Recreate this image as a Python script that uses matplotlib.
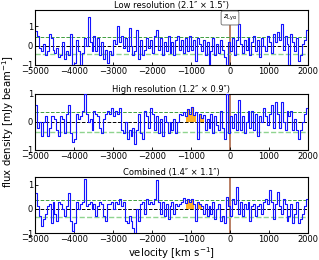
import numpy as np
import matplotlib
matplotlib.use("Agg")
import matplotlib.pyplot as plt

# channel centres (km/s), 50 km/s channels
velocity = np.arange(-4975, 2000, 50)

flux_low = [
    0.75, 0.5, -0.1, -0.3, 0.1, -0.5, -0.3, 0.6, 0.4, -0.2,
    -0.4, -0.1, -0.6, -0.5, 0.2, -0.7, -0.3, -0.5, 0.6, -1.0,
    -0.9, 0.3, -0.3, -1.0, -0.4, 0.4, 0.0, 1.5, 0.2, -0.3,
    0.5, -0.3, 0.4, -0.5, 0.2, -0.7, -0.2, -0.9, -0.3, -0.5,
    0.3, 0.1, 1.0, 0.2, 0.5, -0.1, 0.4, -0.3, 0.9, 0.0,
    -0.5, -0.3, 0.8, -0.7, 0.3, -0.5, -0.2, 0.4, -0.1, 0.3,
    -0.4, 0.5, 0.8, -0.2, 0.4, -0.5, 0.2, -0.3, 0.5, -0.4,
    0.2, -0.5, 0.3, 0.5, -0.2, 0.3, -0.4, 0.4, -0.3, 0.5,
    -0.2, 0.3, -0.8, 0.4, 0.1, -0.3, 0.3, -0.5, 0.2, -1.0,
    -0.3, 0.4, -0.5, 0.1, -0.4, 0.3, -0.2, -0.6, -1.0, 0.2,
    -0.3, 0.4, -0.5, 0.3, 1.1, 0.1, -0.4, 0.3, -0.2, 0.4,
    -0.5, 0.2, 0.5, -0.3, 0.3, -0.6, 0.4, 0.0, -0.3, 0.5,
    0.2, -0.4, 0.6, 0.2, 0.7, 0.3, 1.1, -0.2, 0.5, 0.1,
    -1.0, 0.6, 0.2, -0.3, 0.4, -0.8, -0.5, 0.1, 0.3, 0.8,
]

flux_high = [
    0.6, -0.2, 0.0, -0.5, 0.0, 0.2, -0.5, -0.2, 0.2, 0.2,
    0.1, -0.3, -0.5, 0.2, 0.1, -0.4, 0.3, 0.6, -0.4, -0.7,
    -0.6, 0.3, 0.1, 0.2, 0.4, 1.0, 0.3, 0.0, 0.1, -0.3,
    0.4, 0.3, 0.2, -0.2, -0.4, 0.1, 0.3, 0.4, 0.3, 0.5,
    0.2, 0.4, 0.3, 0.5, -0.3, -0.4, 0.0, -0.6, -0.3, -0.5,
    -0.2, -0.8, -0.3, 0.3, -0.4, -0.6, 0.4, 0.2, -0.2, 0.5,
    0.3, -0.3, 0.2, -0.4, 0.1, -0.5, 0.2, 0.0, -0.4, 0.0,
    -0.3, 0.1, -0.4, 0.0, 0.3, 0.25, 0.35, 0.2, 0.45, 0.3,
    0.55, 0.25, 0.35, -0.6, 0.3, 0.15, 0.25, -0.3, 0.1, -0.2,
    0.3, -0.4, 0.2, -0.1, -0.3, 0.4, -0.2, -0.6, 1.0, -0.4,
    0.2, -0.2, 0.3, -0.3, 0.8, -0.3, 0.2, -0.4, 0.0, 0.4,
    -0.2, 0.4, -0.3, 0.3, -0.5, 0.2, 0.0, 0.5, 0.2, -0.1,
    0.3, 0.6, -0.2, 0.7, 0.3, -0.2, 0.7, 0.0, -0.3, 0.4,
    0.2, 0.4, -0.3, 0.1, -0.3, -0.6, -0.3, 0.0, 0.3, 0.5,
]

flux_comb = [
    0.65, 0.1, -0.3, -0.7, -0.4, -0.2, 0.1, 0.2, -0.6, 0.3,
    -0.2, -0.5, 0.3, 0.2, 0.0, -0.3, 0.1, 0.65, -0.5, -0.9,
    -0.6, 0.3, 0.0, 0.2, 0.3, 1.25, 0.1, 0.2, 0.3, 0.0,
    0.2, -0.3, 0.1, 0.3, 0.2, -0.3, -0.5, 0.2, 0.2, 0.3,
    0.0, 0.3, 0.2, 0.4, 0.1, 0.3, -0.5, -0.6, -0.3, -0.5,
    -0.8, -1.0, 0.0, -0.5, 0.2, 0.3, -0.2, 0.4, 0.2, 0.3,
    0.2, 0.4, 1.2, 0.3, -0.2, 0.3, -0.3, 0.2, -0.4, 0.1,
    0.3, -0.2, 0.2, 0.1, 0.2, 0.3, 0.45, 0.25, 0.4, 0.3,
    0.4, 0.2, -0.5, 0.3, 0.2, 0.1, -0.2, 0.2, -0.3, 0.1,
    -0.2, 0.3, -0.4, 0.0, 0.2, -0.5, -0.3, -0.6, 0.5, 0.1,
    -0.3, 0.4, 0.2, 0.9, -0.2, 0.3, -0.3, 0.2, 0.0, 0.3,
    -0.5, 0.1, 0.2, -0.3, 0.1, 0.2, -0.2, 0.3, 0.4, 0.2,
    0.8, 0.3, -0.4, 0.2, 0.7, 0.1, -0.2, 0.4, 0.2, -0.5,
    -0.3, 0.2, -0.6, -0.2, 0.3, -0.6, -0.4, -0.2, 0.1, 0.4,
]

titles = ["Low resolution (2.1\u2033 \u00d7 1.5\u2033)",
          "High resolution (1.2\u2033 \u00d7 0.9\u2033)",
          "Combined (1.4\u2033 \u00d7 1.1\u2033)"]
rms = [0.45, 0.35, 0.35]
ylims = [(-1, 1.85), (-1, 1.0), (-1, 1.32)]
line_window = (-1150, -650)
show_fill = [False, True, True]

fig = plt.figure(figsize=(3.19, 2.60), dpi=100)
rects = [(0.1097, 0.750, 0.8558, 0.2115),
         (0.1097, 0.4231, 0.8558, 0.2154),
         (0.1097, 0.1038, 0.8558, 0.2154)]
series = [flux_low, flux_high, flux_comb]

for i, (rect, f) in enumerate(zip(rects, series)):
    ax = fig.add_axes(rect)
    f = np.array(f)
    ax.axvline(0, color="#a0522d", lw=1.3, alpha=0.8, zorder=1)
    ax.axhline(0, color="k", ls="--", lw=0.7, zorder=2)
    ax.axhline(rms[i], color="#3f9f3f", ls="--", lw=0.7, zorder=2)
    ax.axhline(-rms[i], color="#8fd48f", ls="--", lw=1.0, zorder=2)
    if show_fill[i]:
        m = (velocity >= line_window[0]) & (velocity <= line_window[1]) & (f > 0)
        ax.fill_between(velocity, 0, f, where=m, step="mid",
                        color="orange", alpha=0.85, lw=0, zorder=2.5)
    ax.step(velocity, f, where="mid", color="#1414ff", lw=0.8, zorder=3)
    ax.set_xlim(-5000, 2000)
    ax.set_ylim(*ylims[i])
    ax.set_yticks([-1, 0, 1])
    ax.set_xticks([-5000, -4000, -3000, -2000, -1000, 0, 1000, 2000])
    ax.tick_params(direction="in", labelsize=6, length=2.5, width=0.6, pad=1.5)
    for s in ax.spines.values():
        s.set_linewidth(0.8)
    ax.set_title(titles[i], fontsize=6, pad=1.5)
    if i == 0:
        ax.text(0, 0.855, r"$z_{\rm Ly\alpha}$", transform=ax.get_xaxis_transform(),
                ha="center", va="center", fontsize=5, zorder=5,
                bbox=dict(boxstyle="round,pad=0.25", fc="white", ec="0.4", lw=0.6))
    if i == 2:
        ax.set_xlabel(r"velocity [km s$^{-1}$]", fontsize=7.3, labelpad=1)

fig.text(0.025, 0.531, r"flux density [mJy beam$^{-1}$]", rotation=90,
         ha="center", va="center", fontsize=7.3)

fig.savefig("out.png", dpi=100)
